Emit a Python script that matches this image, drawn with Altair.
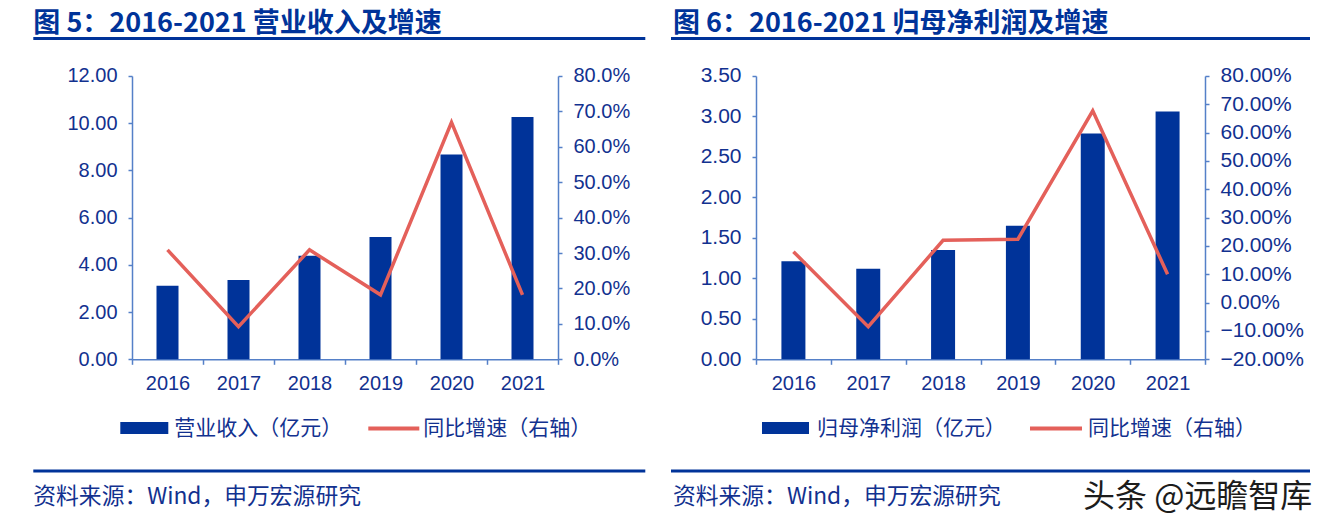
import altair as alt
import pandas as pd

years = ["2016", "2017", "2018", "2019", "2020", "2021"]
revenue = [3.12, 3.36, 4.39, 5.18, 8.67, 10.26]
revenue_growth = [0.309, 0.092, 0.309, 0.182, 0.669, 0.182]
profit = [1.21, 1.12, 1.35, 1.65, 2.79, 3.06]
profit_growth = [0.180, -0.085, 0.220, 0.224, 0.677, 0.100]

titles = ["图 5：2016-2021 营业收入及增速", "图 6：2016-2021 归母净利润及增速"]
bar_labels = ["营业收入（亿元）", "归母净利润（亿元）"]
line_label = "同比增速（右轴）"
source_text = "资料来源：Wind，申万宏源研究"
watermark = "头条 @远瞻智库"

NAVY = "#003399"
TEXT = "#12318F"
AXIS = "#5580C8"
RED = "#E4605A"
CJK = "Noto Sans CJK SC"
LAT = "Liberation Sans"

one = pd.DataFrame({"k": [0]})


def panel(vals, growth, ymax, ystep, gmin, gmax, gfmt, width, barsize,
          title, bar_label, ox, oy, geo, anchor_x, label_size, wm=False):
    df = pd.DataFrame({"year": years, "value": vals, "growth": growth})
    height = 283.3

    def rx(px):
        return px - ox

    def ry(py):
        return py - oy

    xenc = alt.X("year:N", title=None,
                 scale=alt.Scale(paddingInner=0, paddingOuter=0),
                 axis=alt.Axis(labelAngle=0, tickBand="extent", tickSize=5,
                               labelFontSize=20, labelFont=LAT, labelColor=TEXT,
                               labelPadding=9, domainColor=AXIS, tickColor=AXIS,
                               domainWidth=1.5, tickWidth=1.5))
    nl = int(round(ymax / ystep))
    lvals = [round(i * ystep, 4) for i in range(nl + 1)]
    gvals = [round(gmin + i * 0.1, 4) for i in range(int(round((gmax - gmin) / 0.1)) + 1)]

    bars = alt.Chart(df).mark_bar(color=NAVY, size=barsize).encode(
        x=xenc,
        y=alt.Y("value:Q", title=None,
                scale=alt.Scale(domain=[0, ymax], nice=False, zero=True),
                axis=alt.Axis(values=lvals, format=".2f", grid=False, tickSize=4,
                              labelFontSize=label_size, labelFont=LAT,
                              labelColor=TEXT, labelPadding=11,
                              domainColor=AXIS, tickColor=AXIS,
                              domainWidth=1.5, tickWidth=1.5)),
    )
    line = alt.Chart(df).mark_line(color=RED, strokeWidth=3.5).encode(
        x=alt.X("year:N"),
        y=alt.Y("growth:Q", title=None,
                scale=alt.Scale(domain=[gmin, gmax], nice=False, zero=False),
                axis=alt.Axis(orient="right", values=gvals, format=gfmt, grid=False,
                              tickSize=4, labelFontSize=label_size, labelFont=LAT,
                              labelColor=TEXT, labelPadding=11,
                              domainColor=AXIS, tickColor=AXIS,
                              domainWidth=1.5, tickWidth=1.5)),
    )

    layers = [bars, line]
    # invisible anchors that fix the group's bounds (top-left and bottom)
    layers.append(alt.Chart(one).mark_rule(strokeOpacity=0, strokeWidth=1).encode(
        x=alt.value(rx(anchor_x[0])), x2=alt.value(rx(anchor_x[1])), y=alt.value(ry(8))))
    layers.append(alt.Chart(one).mark_rule(strokeOpacity=0, strokeWidth=1).encode(
        x=alt.value(rx(anchor_x[0])), x2=alt.value(rx(anchor_x[1])), y=alt.value(ry(519))))
    # title
    layers.append(alt.Chart(one).mark_text(
        text=title, font=CJK, fontSize=27, fontWeight="bold", color=NAVY,
        align="left", baseline="alphabetic").encode(
        x=alt.value(rx(geo["tx"])), y=alt.value(ry(32.5))))
    # title rule
    layers.append(alt.Chart(one).mark_rule(color=NAVY, strokeWidth=3).encode(
        x=alt.value(rx(geo["r0"])), x2=alt.value(rx(geo["r1"])), y=alt.value(ry(38.5))))
    # legend
    layers.append(alt.Chart(one).mark_rect(color=NAVY).encode(
        x=alt.value(rx(geo["lb0"])), x2=alt.value(rx(geo["lb1"])),
        y=alt.value(ry(422)), y2=alt.value(ry(434))))
    layers.append(alt.Chart(one).mark_text(
        text=bar_label, font=CJK, fontSize=21, color=TEXT,
        align="left", baseline="middle").encode(
        x=alt.value(rx(geo["lt"])), y=alt.value(ry(429))))
    layers.append(alt.Chart(one).mark_rule(color=RED, strokeWidth=4).encode(
        x=alt.value(rx(geo["ll0"])), x2=alt.value(rx(geo["ll1"])), y=alt.value(ry(428.5))))
    layers.append(alt.Chart(one).mark_text(
        text=line_label, font=CJK, fontSize=21, color=TEXT,
        align="left", baseline="middle").encode(
        x=alt.value(rx(geo["lt2"])), y=alt.value(ry(429))))
    # bottom rule + source
    layers.append(alt.Chart(one).mark_rule(color=NAVY, strokeWidth=3).encode(
        x=alt.value(rx(geo["r0"])), x2=alt.value(rx(geo["r1"])), y=alt.value(ry(471))))
    layers.append(alt.Chart(one).mark_text(
        text=source_text, font=CJK, fontSize=22.8, color=TEXT,
        align="left", baseline="middle").encode(
        x=alt.value(rx(geo["tx"])), y=alt.value(ry(497))))
    if wm:
        layers.append(alt.Chart(one).mark_text(
            text=watermark, font=CJK, fontSize=32, color="#1c1c1c",
            align="left", baseline="middle").encode(
            x=alt.value(rx(1082)), y=alt.value(ry(497))))

    return alt.layer(*layers).resolve_scale(y="independent").properties(
        width=width, height=height)


OY = 76
LOX = 131.7
ROX = 755.0

left = panel(revenue, revenue_growth, 12, 2, 0.0, 0.8, ".1%", 426, 22,
             titles[0], bar_labels[0], LOX, OY,
             dict(tx=33, r0=33, r1=645, lb0=120, lb1=168, lt=174, ll0=368, ll1=419, lt2=423),
             (8, 650), 20)
right = panel(profit, profit_growth, 3.5, 0.5, -0.2, 0.8, ".2%", 449, 24,
              titles[1], bar_labels[1], ROX, OY,
              dict(tx=672, r0=670, r1=1309, lb0=761, lb1=808, lt=816, ll0=1029, ll1=1081, lt2=1087),
              (668, 1333), 21, wm=True)

chart = alt.hconcat(left, right, spacing=18).properties(
    padding={"left": 0, "top": 0, "right": 0, "bottom": 0},
    background="white",
).configure_view(strokeWidth=0)

chart.save("out.html", embed_options={"renderer": "svg", "actions": False})
